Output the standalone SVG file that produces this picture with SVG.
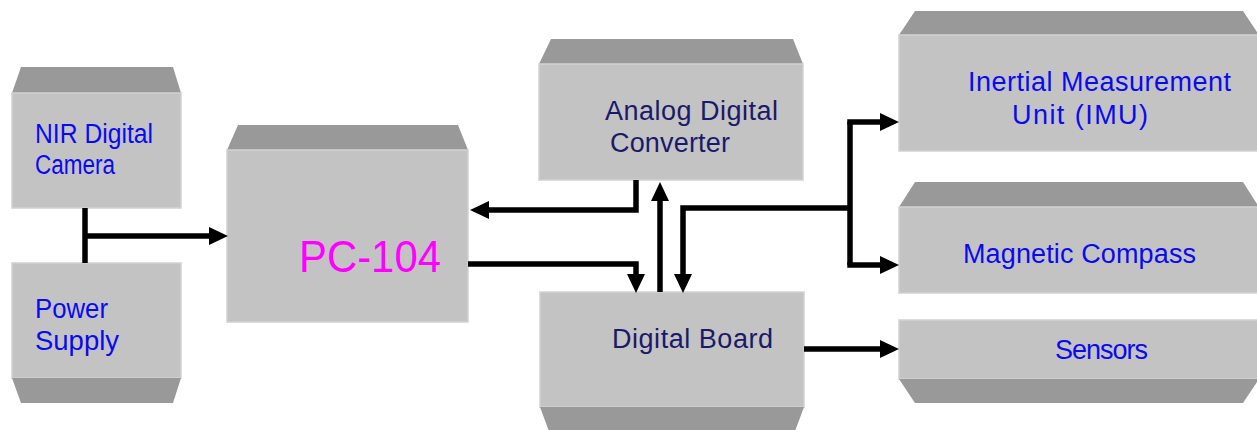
<svg xmlns="http://www.w3.org/2000/svg" width="1257" height="430" viewBox="0 0 1257 430">
<defs>
<style>
.body{fill:#c3c3c3;stroke:#d2d2d2;stroke-width:1.5}
.cap{fill:#999999}
.t{font-family:"Liberation Sans",Arial,sans-serif;font-size:27px}
.blue{fill:#0a0af0}
.navy{fill:#1a1a6a}
.mag{fill:#ff00ff;font-size:45px}
.ln{fill:none;stroke:#000;stroke-width:5.5;stroke-linejoin:miter;stroke-linecap:butt}
</style>
<marker id="ah" markerUnits="userSpaceOnUse" markerWidth="20" markerHeight="20" viewBox="0 0 20 20" refX="0" refY="9" orient="auto">
<path d="M0,0 L19,9 L0,18 z" fill="#000"/>
</marker>
</defs>
<rect width="1257" height="430" fill="#fff"/>

<g id="nir-camera">
<polygon class="cap" points="21,67 173,67 181,93 12,93"/>
<rect class="body" x="12" y="93" width="169" height="115"/>
<text class="t blue" x="35" y="143" font-size="25" textLength="118" lengthAdjust="spacingAndGlyphs">NIR Digital</text>
<text class="t blue" x="35" y="174" font-size="25" textLength="80" lengthAdjust="spacingAndGlyphs">Camera</text>
</g>

<g id="power-supply">
<rect class="body" x="12" y="263" width="169" height="115"/>
<polygon class="cap" points="12,378 181,378 173,403 21,403"/>
<text class="t blue" x="35" y="318" font-size="25" textLength="73" lengthAdjust="spacingAndGlyphs">Power</text>
<text class="t blue" x="35" y="350" font-size="25" textLength="84" lengthAdjust="spacingAndGlyphs">Supply</text>
</g>

<g id="pc104">
<polygon class="cap" points="238,125 458,125 468,150 227,150"/>
<rect class="body" x="227" y="150" width="241" height="172"/>
<text class="t mag" x="299" y="272" textLength="142" lengthAdjust="spacingAndGlyphs">PC-104</text>
</g>

<g id="adc">
<polygon class="cap" points="551,39 793,39 803,64 539,64"/>
<rect class="body" x="539" y="64" width="264" height="116"/>
<text class="t navy" x="605" y="120" textLength="173" lengthAdjust="spacing">Analog Digital</text>
<text class="t navy" x="610" y="152" textLength="120" lengthAdjust="spacing">Converter</text>
</g>

<g id="digital-board">
<rect class="body" x="540" y="292" width="264" height="115"/>
<polygon class="cap" points="540,407 804,407 794,434 550,434"/>
<text class="t navy" x="612" y="348" textLength="161" lengthAdjust="spacing">Digital Board</text>
</g>

<g id="imu">
<polygon class="cap" points="915,11 1243,11 1259,35 899,35"/>
<rect class="body" x="899" y="35" width="362" height="116"/>
<text class="t blue" x="968" y="91" textLength="263" lengthAdjust="spacing">Inertial Measurement</text>
<text class="t blue" x="1012" y="124" textLength="136" lengthAdjust="spacing">Unit (IMU)</text>
</g>

<g id="magnetic-compass">
<polygon class="cap" points="915,182 1243,182 1259,207 899,207"/>
<rect class="body" x="899" y="207" width="362" height="86"/>
<text class="t blue" x="963" y="263" textLength="233" lengthAdjust="spacing">Magnetic Compass</text>
</g>

<g id="sensors">
<rect class="body" x="899" y="320" width="362" height="59"/>
<polygon class="cap" points="899,379 1259,379 1243,403 915,403"/>
<text class="t blue" x="1055" y="359" textLength="93" lengthAdjust="spacing">Sensors</text>
</g>

<g id="connectors">
<path class="ln" d="M85,208 V263"/>
<path class="ln" d="M85,236 H209" marker-end="url(#ah)"/>
<path class="ln" d="M636,180 V210 H489" marker-end="url(#ah)"/>
<path class="ln" d="M468,264 H636 V274" marker-end="url(#ah)"/>
<path class="ln" d="M660,292 V201" marker-end="url(#ah)"/>
<path class="ln" d="M850,208 H683 V274" marker-end="url(#ah)"/>
<path class="ln" d="M850,122 V265"/>
<path class="ln" d="M847.25,122 H880" marker-end="url(#ah)"/>
<path class="ln" d="M847.25,265 H880" marker-end="url(#ah)"/>
<path class="ln" d="M804,349 H880" marker-end="url(#ah)"/>
</g>
</svg>
